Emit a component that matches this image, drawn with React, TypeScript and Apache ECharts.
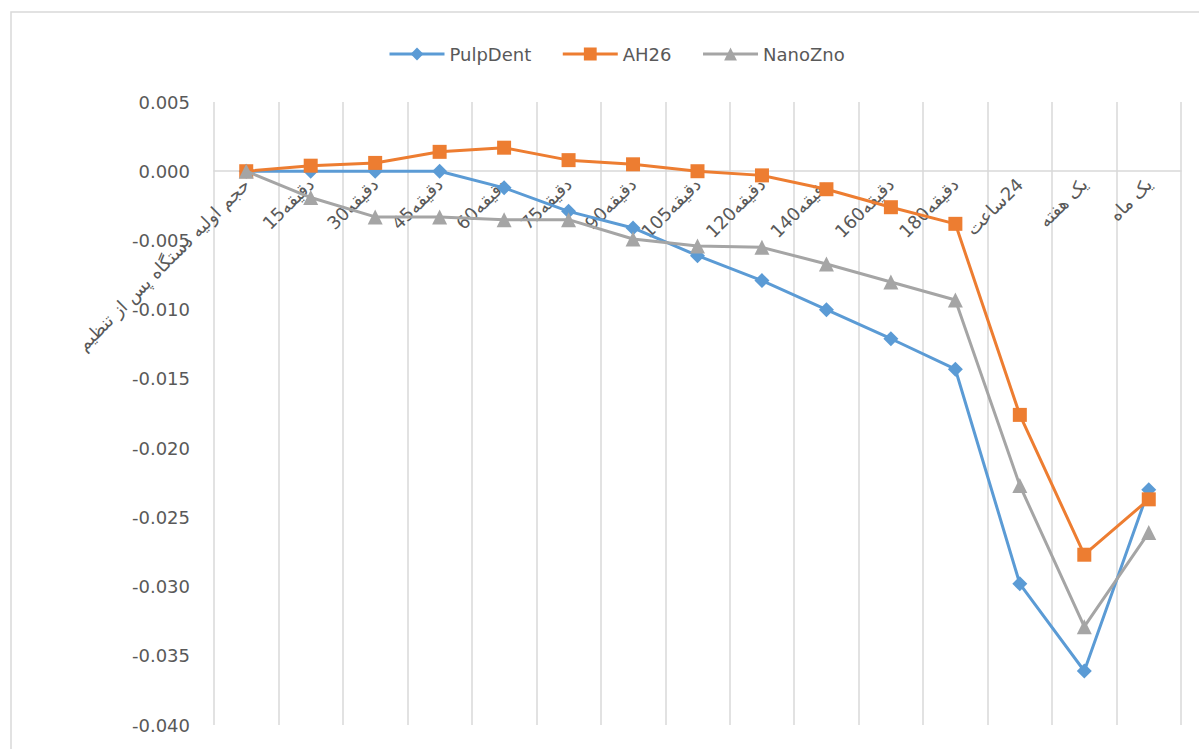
import React, { useEffect, useRef } from "react";
import * as echarts from "echarts";

const categories = [
  "حجم اولیه دستگاه پس از تنظیم",
  "15دقیقه",
  "30دقیقه",
  "45دقیقه",
  "60دقیقه",
  "75دقیقه",
  "90دقیقه",
  "105دقیقه",
  "120دقیقه",
  "140دقیقه",
  "160دقیقه",
  "180دقیقه",
  "ساعت\u200E24",
  "یک هفته",
  "یک ماه",
];

const pulpDent = [0, 0, 0, 0, -0.0012, -0.0029, -0.0041, -0.0061, -0.0079, -0.01, -0.0121, -0.0143, -0.0298, -0.0361, -0.023];
const ah26 = [0, 0.0004, 0.0006, 0.0014, 0.0017, 0.0008, 0.0005, 0.0, -0.0003, -0.0013, -0.0026, -0.0038, -0.0176, -0.0277, -0.0237];
const nanoZno = [0, -0.0019, -0.0033, -0.0033, -0.0035, -0.0035, -0.0049, -0.0054, -0.0055, -0.0067, -0.008, -0.0093, -0.0227, -0.0329, -0.0261];

const seriesNames = ["PulpDent", "AH26", "NanoZno"];
const seriesColors = ["#5B9BD5", "#ED7D31", "#A5A5A5"];
const seriesSymbols = ["diamond", "rect", "triangle"];
const seriesSizes = [15, 14, 15];

const yMin = -0.04;
const yMax = 0.005;
const yInterval = 0.005;

const FONT = "'DejaVu Sans', Lato, sans-serif";
const TEXT = "#595959";
const GRIDC = "#D9D9D9";

const GRID_TOP = 102;
const GRID_BOTTOM = 24;
const CHART_H = 749;

export default function App() {
  const ref = useRef<HTMLDivElement>(null);
  useEffect(() => {
    document.body.style.margin = "0";
    const chart = echarts.init(ref.current!, undefined, { renderer: "svg" });
    const data = [pulpDent, ah26, nanoZno];
    const plotH = CHART_H - GRID_TOP - GRID_BOTTOM;
    // distance from grid bottom (yMin) up to the zero line
    const zeroOffset = (plotH * (0 - yMin)) / (yMax - yMin);
    chart.setOption({
      animation: false,
      backgroundColor: "#fff",
      graphic: [
        {
          type: "rect",
          shape: { x: 11, y: 12, width: 1400, height: 1000 },
          style: { fill: "none", stroke: GRIDC, lineWidth: 1.5 },
          silent: true,
          z: -1,
        },
      ],
      legend: {
        left: 383,
        top: 40,
        itemWidth: 55,
        itemHeight: 16,
        itemGap: 30,
        lineStyle: { width: 3 },
        textStyle: { fontSize: 18, color: TEXT, fontFamily: FONT },
        data: seriesNames,
      },
      grid: {
        left: 214,
        right: 18,
        top: GRID_TOP,
        bottom: GRID_BOTTOM,
        containLabel: false,
        outerBoundsMode: "none",
      },
      xAxis: {
        type: "category",
        data: categories,
        boundaryGap: true,
        position: "bottom",
        offset: -zeroOffset,
        axisLine: { show: true, onZero: false, lineStyle: { color: GRIDC, width: 1.5 } },
        axisTick: { show: false },
        splitLine: { show: true, lineStyle: { color: GRIDC, width: 1.5 } },
        axisLabel: {
          interval: 0,
          rotate: 45,
          margin: 10,
          fontSize: 18,
          color: TEXT,
          fontFamily: FONT,
        },
      },
      yAxis: {
        type: "value",
        min: yMin,
        max: yMax,
        interval: yInterval,
        axisLine: { show: false },
        axisTick: { show: false },
        splitLine: { show: false },
        axisLabel: {
          margin: 24,
          fontSize: 18,
          color: TEXT,
          fontFamily: FONT,
          formatter: (v: number) => v.toFixed(3),
        },
      },
      series: seriesNames.map((name, i) => ({
        name,
        type: "line",
        data: data[i],
        symbol: seriesSymbols[i],
        symbolSize: seriesSizes[i],
        showAllSymbol: true,
        itemStyle: { color: seriesColors[i] },
        lineStyle: { color: seriesColors[i], width: 3 },
        z: 2 + i,
      })),
    });
    return () => chart.dispose();
  }, []);
  return <div ref={ref} style={{ position: "fixed", left: 0, top: 0, width: 1199, height: 749 }} />;
}
